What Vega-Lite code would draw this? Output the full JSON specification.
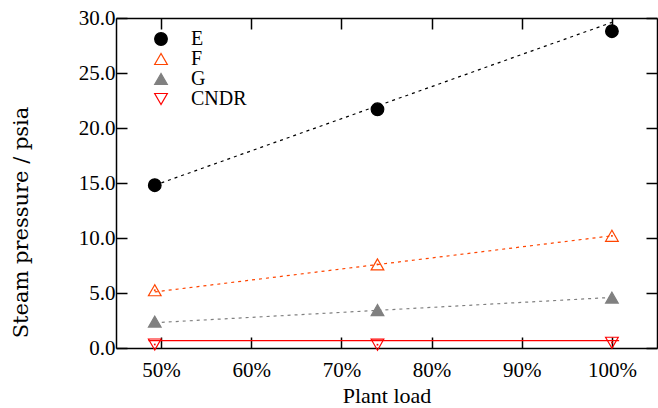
{
  "$schema": "https://vega.github.io/schema/vega-lite/v6.json",
  "width": 541,
  "height": 330,
  "autosize": {"type": "none"},
  "padding": {"left": 116, "top": 18, "right": 1, "bottom": 60},
  "background": "white",
  "config": {
    "view": {"stroke": null},
    "font": "Liberation Serif",
    "legend": {
      "labelFont": "Liberation Serif", "labelFontSize": 20, "labelColor": "black",
      "labelOffset": 20, "rowPadding": 0, "symbolSize": 160,
      "symbolStrokeWidth": 1.2, "padding": 0, "orient": "none", "legendX": 35, "legendY": 11
    }
  },
  "datasets": {
    "points": [
      {"series": "E", "load": 49.3, "pressure": 14.8},
      {"series": "E", "load": 74.0, "pressure": 21.7},
      {"series": "E", "load": 100.0, "pressure": 28.8},
      {"series": "F", "load": 49.3, "pressure": 5.25},
      {"series": "F", "load": 74.0, "pressure": 7.6},
      {"series": "F", "load": 100.0, "pressure": 10.2},
      {"series": "G", "load": 49.3, "pressure": 2.4},
      {"series": "G", "load": 74.0, "pressure": 3.45},
      {"series": "G", "load": 100.0, "pressure": 4.58},
      {"series": "CNDR", "load": 49.3, "pressure": 0.32},
      {"series": "CNDR", "load": 74.0, "pressure": 0.3},
      {"series": "CNDR", "load": 100.0, "pressure": 0.48}
    ],
    "lines": [
      {"series": "E", "load": 49.3, "pressure": 14.8},
      {"series": "E", "load": 100.0, "pressure": 29.6},
      {"series": "F", "load": 49.3, "pressure": 5.1},
      {"series": "F", "load": 100.0, "pressure": 10.2},
      {"series": "G", "load": 49.3, "pressure": 2.3},
      {"series": "G", "load": 100.0, "pressure": 4.6},
      {"series": "CNDR", "load": 48.6, "pressure": 0.67},
      {"series": "CNDR", "load": 100.8, "pressure": 0.67}
    ]
  },
  "layer": [
    {
      "data": {"name": "lines"},
      "mark": {"type": "line", "strokeWidth": 1.2},
      "encoding": {
        "x": {
          "field": "load", "type": "quantitative",
          "scale": {"domain": [45, 105], "nice": false, "zero": false},
          "axis": {"orient": "top", "labels": false, "title": null, "grid": false,
            "values": [50, 60, 70, 80, 90, 100], "tickSize": -11, "tickWidth": 1.5,
            "tickColor": "black", "domainColor": "black", "domainWidth": 1.5}
        },
        "y": {
          "field": "pressure", "type": "quantitative",
          "scale": {"domain": [0, 30], "nice": false},
          "axis": {"orient": "right", "labels": false, "title": null, "grid": false,
            "values": [0, 5, 10, 15, 20, 25, 30], "tickSize": -11, "tickWidth": 1.5,
            "tickColor": "black", "domainColor": "black", "domainWidth": 1.5}
        },
        "color": {
          "field": "series", "type": "nominal", "legend": null,
          "scale": {"domain": ["CNDR", "E", "F", "G"], "range": ["#ff0000", "#000000", "#ff4500", "#808080"]}
        },
        "strokeDash": {
          "field": "series", "type": "nominal", "legend": null,
          "scale": {"domain": ["G", "CNDR", "E", "F"], "range": [[3, 4], [1, 0], [3, 4], [3, 4]]}
        }
      }
    },
    {
      "data": {"name": "points"},
      "mark": {"type": "point", "size": 160, "strokeWidth": 1.2, "opacity": 1},
      "encoding": {
        "x": {
          "field": "load", "type": "quantitative",
          "axis": {"orient": "bottom", "title": "Plant load", "grid": false,
            "values": [50, 60, 70, 80, 90, 100], "labelExpr": "datum.value + '%'",
            "tickSize": -11, "tickWidth": 1.5, "tickColor": "black",
            "domainColor": "black", "domainWidth": 1.5,
            "labelFont": "Liberation Serif", "labelFontSize": 21, "labelColor": "black",
            "labelPadding": 22, "labelBaseline": "top",
            "titleFont": "Liberation Serif", "titleFontSize": 22, "titleFontWeight": "normal",
            "titleColor": "black", "titleY": 54, "titleBaseline": "alphabetic"}
        },
        "y": {
          "field": "pressure", "type": "quantitative",
          "axis": {"orient": "left", "title": "Steam pressure / psia", "grid": false,
            "values": [0, 5, 10, 15, 20, 25, 30], "format": ".1f",
            "tickSize": -11, "tickWidth": 1.5, "tickColor": "black",
            "domainColor": "black", "domainWidth": 1.5,
            "labelFont": "Liberation Serif", "labelFontSize": 21, "labelColor": "black",
            "labelPadding": 12,
            "titleFont": "DejaVu Serif", "titleFontSize": 21, "titleFontWeight": "normal",
            "titleColor": "black", "titleX": -95, "titleY": 204, "titleBaseline": "middle"}
        },
        "shape": {
          "field": "series", "type": "nominal",
          "scale": {"domain": ["E", "F", "G", "CNDR"], "range": ["circle", "triangle-up", "triangle-up", "triangle-down"]},
          "legend": {"title": null, "orient": "none", "legendX": 35, "legendY": 11,
            "labelFont": "Liberation Serif", "labelFontSize": 20, "rowPadding": 0, "labelOffset": 20}
        },
        "fill": {
          "field": "series", "type": "nominal",
          "scale": {"domain": ["E", "F", "G", "CNDR"], "range": ["#000000", "transparent", "#808080", "transparent"]},
          "legend": {"title": null, "orient": "none", "legendX": 35, "legendY": 11,
            "labelFont": "Liberation Serif", "labelFontSize": 20, "rowPadding": 0, "labelOffset": 20}
        },
        "stroke": {
          "field": "series", "type": "nominal",
          "scale": {"domain": ["E", "F", "G", "CNDR"], "range": ["#000000", "#ff4500", "#808080", "#ff0000"]},
          "legend": {"title": null, "orient": "none", "legendX": 35, "legendY": 11,
            "labelFont": "Liberation Serif", "labelFontSize": 20, "rowPadding": 0, "labelOffset": 20}
        }
      }
    },
    {
      "data": {"name": "points"},
      "transform": [{"filter": "datum.series === 'F' || datum.series === 'CNDR'"}],
      "mark": {"type": "point", "shape": "square", "size": 3, "filled": true, "opacity": 1},
      "encoding": {
        "x": {"field": "load", "type": "quantitative", "axis": null},
        "y": {"field": "pressure", "type": "quantitative", "axis": null},
        "color": {"condition": {"test": "datum.series === 'F'", "value": "#ff4500"}, "value": "#ff0000"}
      }
    }
  ],
  "resolve": {"axis": {"x": "independent", "y": "independent"}}
}
